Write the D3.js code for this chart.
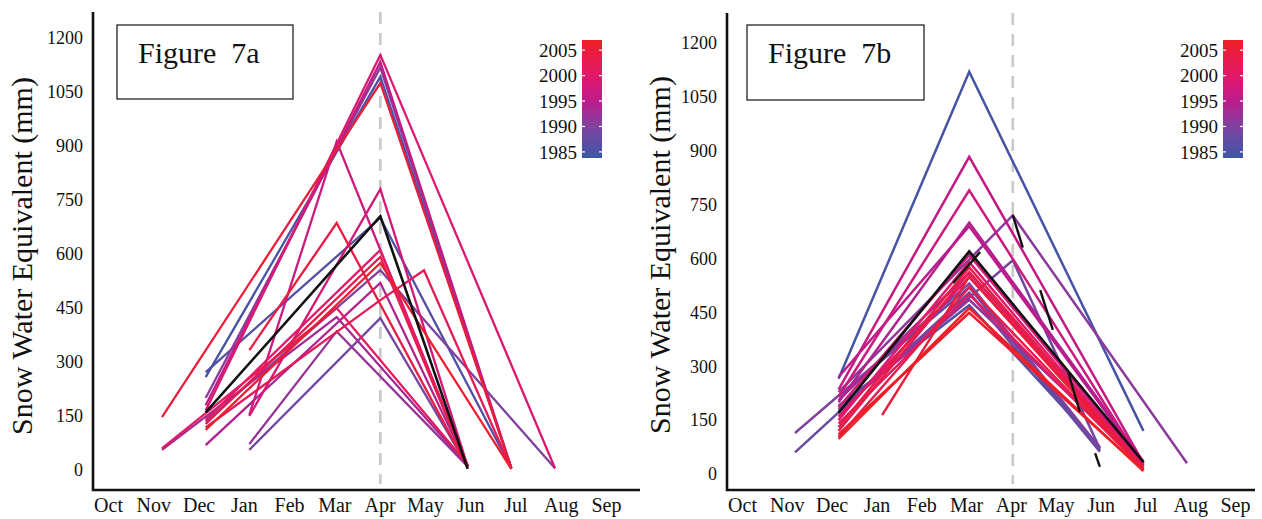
<!DOCTYPE html>
<html>
<head>
<meta charset="utf-8">
<script src="https://cdn.jsdelivr.net/npm/d3@7"></script>
<style>
  body { margin: 0; background: #fff; }
  svg { display: block; }
  text { font-family: "Liberation Serif", "DejaVu Serif", serif; fill: #111; }
</style>
</head>
<body>
<svg id="chart" width="1262" height="519"></svg>
<script>
// Month axis runs from October (index 0) to September (index 11)
const months = ["Oct", "Nov", "Dec", "Jan", "Feb", "Mar", "Apr", "May", "Jun", "Jul", "Aug", "Sep"];
const sweTicks = [0, 150, 300, 450, 600, 750, 900, 1050, 1200];
const legendYears = [1985, 1990, 1995, 2000, 2005];
const colorYears = [1984, 1990, 1995, 2000, 2007];
const colorHexes = ["#3c56a6", "#7f439f", "#bd1a8b", "#e2196a", "#ee1f26"];
const aprilIndex = 6;
const serif = '"Liberation Serif", "DejaVu Serif", serif';

// Figure 7a: snow water equivalent (mm) per year, [month index, value]
const yearsA = [1985, 1986, 1989, 1990, 1991, 1992, 1993, 1994, 1996, 1997,
                1998, 1999, 2000, 2001, 2002, 2003, 2004, 2005, 2006];
const tracesA = [
  [[2, 258], [6, 1092], [9, 5]],
  [[2, 272], [6, 700], [9, 5]],
  [[3, 56], [6, 422], [8, 10]],
  [[2, 135], [6, 555], [10, 5]],
  [[2, 200], [6, 1118], [9, 5]],
  [[3, 72], [5, 385], [8, 10]],
  [[1, 56], [5, 425], [8, 12]],
  [[2, 69], [6, 520], [8, 12]],
  [[2, 180], [6, 1133], [9, 5]],
  [[3, 153], [5, 912], [8, 10]],
  [[3, 150], [6, 780], [8, 10]],
  [[2, 165], [6, 1153], [10, 5]],
  [[2, 140], [6, 611], [8, 12]],
  [[1, 60], [5, 450], [8, 15]],
  [[2, 118], [6, 472], [7, 555], [9, 3]],
  [[2, 128], [6, 592], [8, 8]],
  [[3, 333], [5, 686], [8, 8]],
  [[1, 147], [6, 1075], [9, 5]],
  [[2, 111], [6, 575], [9, 3]]
];
const meanA = [[2, 160], [6, 705], [8, 3]];
const fragmentsA = [];

// Figure 7b
const yearsB = [1985, 1986, 1987, 1988, 1989, 1990, 1991, 1992, 1993, 1994, 1995,
                1996, 1997, 1998, 1999, 2000, 2001, 2002, 2003, 2004, 2005, 2006, 2007];
const tracesB = [
  [[2, 265], [5, 1120], [9, 120]],
  [[2, 190], [5, 470], [8, 75]],
  [[2, 215], [5, 520], [8, 65]],
  [[1, 60], [5, 505], [8, 62]],
  [[2, 180], [6, 595], [8, 70]],
  [[1, 114], [5, 530], [8, 72]],
  [[2, 228], [6, 720], [10, 30]],
  [[2, 175], [5, 485], [9, 25]],
  [[2, 205], [5, 560], [9, 30]],
  [[2, 200], [5, 700], [9, 35]],
  [[2, 270], [5, 690], [9, 30]],
  [[2, 235], [5, 883], [9, 30]],
  [[2, 215], [5, 790], [9, 25]],
  [[2, 185], [5, 610], [9, 25]],
  [[2, 160], [5, 548], [9, 22]],
  [[2, 150], [5, 590], [9, 20]],
  [[2, 140], [5, 500], [9, 15]],
  [[2, 120], [5, 562], [9, 15]],
  [[2, 103], [5, 520], [9, 12]],
  [[2, 130], [5, 575], [9, 15]],
  [[3, 164], [5, 550], [9, 10]],
  [[2, 110], [5, 449], [9, 10]],
  [[2, 98], [5, 462], [9, 8]]
];
const meanB = [[2, 170], [5, 620], [9, 33]];
const fragmentsB = [
  [[4.63, 532], [5.25, 618]],
  [[6.0, 721], [6.23, 630]],
  [[6.63, 512], [6.92, 401]],
  [[7.27, 284], [7.54, 173]],
  [[7.89, 58], [8.0, 20]]
];

const color = d3.scaleLinear().domain(colorYears).range(colorHexes).interpolate(d3.interpolateRgb);
const svg = d3.select("#chart");

function drawPanel(p, years, traces, mean, fragments) {
  const g = svg.append("g");
  const x = d3.scaleLinear().domain([1, 10]).range(p.dataX);
  const xLab = d3.scaleLinear().domain([0, 11]).range(p.labelX);
  const y = d3.scaleLinear().domain([0, 1200]).range(p.yRange);
  const line = d3.line().x(d => x(d[0])).y(d => y(d[1]));

  // April reference
  g.append("line")
    .attr("x1", x(aprilIndex)).attr("x2", x(aprilIndex))
    .attr("y1", p.top).attr("y2", p.bottom - 6)
    .attr("stroke", "#c9c9c9").attr("stroke-width", 2.6)
    .attr("stroke-dasharray", "12,9");

  // yearly traces
  g.append("g").selectAll("path").data(traces).join("path")
    .attr("d", line)
    .attr("fill", "none")
    .attr("stroke", (d, i) => color(years[i]))
    .attr("stroke-width", p.lineWidth);

  g.append("path").datum(mean).attr("d", line)
    .attr("fill", "none").attr("stroke", "#111").attr("stroke-width", 2.6);

  g.append("g").selectAll("path").data(fragments).join("path")
    .attr("d", line).attr("fill", "none")
    .attr("stroke", "#111").attr("stroke-width", 2.4);

  // axes
  const yAxis = d3.axisLeft(y).tickValues(sweTicks).tickFormat(d3.format("d")).tickSize(0).tickPadding(0);
  const ya = g.append("g").attr("transform", `translate(${p.axisX - 10},0)`).call(yAxis);
  ya.attr("font-family", null);
  ya.select(".domain").remove();
  ya.selectAll("text").attr("font-size", 18).style("font-family", serif).attr("fill", "#111");

  const xAxis = d3.axisBottom(xLab).tickValues(d3.range(12)).tickFormat(i => months[i]).tickSize(0).tickPadding(8);
  const xa = g.append("g").attr("transform", `translate(0,${p.bottom})`).call(xAxis);
  xa.attr("font-family", null);
  xa.select(".domain").remove();
  xa.selectAll("text").attr("font-size", 20).style("font-family", serif).attr("fill", "#111");

  g.append("path")
    .attr("d", `M${p.axisX},${p.top}V${p.bottom}H${p.right}`)
    .attr("fill", "none").attr("stroke", "#111").attr("stroke-width", 2.6);

  g.append("text")
    .attr("transform", `translate(${p.titleX},${p.titleY}) rotate(-90)`)
    .attr("text-anchor", "middle")
    .attr("font-size", 30)
    .style("font-family", serif)
    .text("Snow Water Equivalent (mm)");

  // figure label box
  g.append("rect")
    .attr("x", p.box[0]).attr("y", p.box[1]).attr("width", p.box[2]).attr("height", p.box[3])
    .attr("fill", "#fff").attr("stroke", "#111").attr("stroke-width", 1.2);
  g.append("text")
    .attr("x", p.box[0] + 21).attr("y", p.box[1] + 38)
    .attr("font-size", 30)
    .style("font-family", serif)
    .style("white-space", "pre")
    .text(p.label);

  // year colour bar
  const lo = 1983.8, hi = 2007;
  const ly = d3.scaleLinear().domain([lo, hi]).range([p.legend[2], p.legend[1]]);
  const gid = "grad" + p.id;
  const grad = svg.append("defs").append("linearGradient")
    .attr("id", gid).attr("x1", 0).attr("y1", 1).attr("x2", 0).attr("y2", 0);
  d3.range(0, 1.0001, 0.05).forEach(t => {
    grad.append("stop").attr("offset", t).attr("stop-color", color(lo + t * (hi - lo)));
  });
  const lx = p.legend[0];
  g.append("rect").attr("x", lx).attr("y", p.legend[1])
    .attr("width", 20).attr("height", p.legend[2] - p.legend[1])
    .attr("fill", `url(#${gid})`);
  const lt = g.append("g").selectAll("g").data(legendYears).join("g")
    .attr("transform", d => `translate(0,${ly(d)})`);
  lt.append("line").attr("x1", lx).attr("x2", lx + 3).attr("stroke", "#fff").attr("stroke-width", 1.2);
  lt.append("line").attr("x1", lx + 17).attr("x2", lx + 20).attr("stroke", "#fff").attr("stroke-width", 1.2);
  lt.append("text").attr("x", lx - 5).attr("dy", "0.35em")
    .attr("text-anchor", "end").attr("font-size", 19)
    .style("font-family", serif).text(d => d);
}

drawPanel({
  id: "a", label: "Figure  7a", lineWidth: 2.3,
  dataX: [162, 555], labelX: [108, 606], yRange: [470, 38],
  axisX: 93, top: 12, bottom: 490, right: 640,
  titleX: 32, titleY: 256,
  box: [117, 25, 176, 74],
  legend: [582, 40, 158]
}, yearsA, tracesA, meanA, fragmentsA);

drawPanel({
  id: "b", label: "Figure  7b", lineWidth: 2.5,
  dataX: [795, 1187], labelX: [742, 1235], yRange: [474, 43],
  axisX: 727, top: 13, bottom: 490, right: 1255,
  titleX: 670, titleY: 255,
  box: [747, 25, 177, 75],
  legend: [1223, 40, 158]
}, yearsB, tracesB, meanB, fragmentsB);
</script>
</body>
</html>
